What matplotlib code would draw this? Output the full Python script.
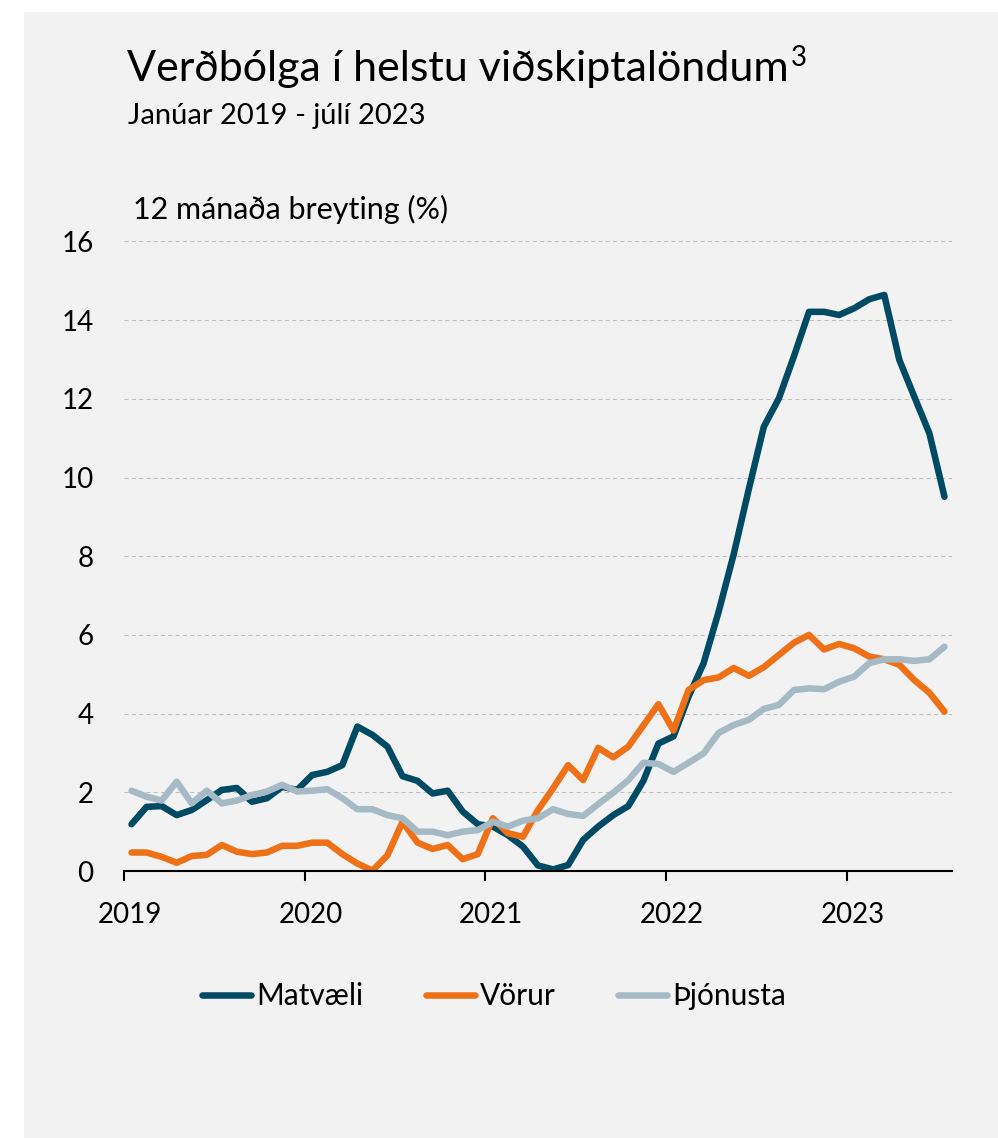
import matplotlib

matplotlib.use("Agg")

import matplotlib.pyplot as plt
import matplotlib.transforms as mtransforms
from matplotlib.patches import Rectangle

# 12 month change (%), January 2019 - July 2023
MONTHS = list(range(55))
MATVAELI = [
    1.19, 1.63, 1.65, 1.42, 1.55, 1.80, 2.06, 2.11, 1.76, 1.85, 2.14, 2.06,
    2.44, 2.52, 2.69, 3.67, 3.46, 3.16, 2.41, 2.29, 1.97, 2.04, 1.51, 1.19,
    1.13, 0.91, 0.62, 0.14, 0.04, 0.15, 0.79, 1.13, 1.42, 1.65, 2.29, 3.24,
    3.42, 4.43, 5.28, 6.59, 8.05, 9.70, 11.29, 12.01, 13.08, 14.21, 14.21, 14.13,
    14.30, 14.53, 14.64, 12.99, 12.05, 11.12, 9.51,
]
VORUR = [
    0.47, 0.47, 0.36, 0.21, 0.38, 0.41, 0.66, 0.49, 0.43, 0.47, 0.64, 0.64,
    0.72, 0.72, 0.43, 0.19, 0.01, 0.40, 1.25, 0.72, 0.56, 0.66, 0.30, 0.43,
    1.34, 0.96, 0.87, 1.55, 2.10, 2.69, 2.31, 3.13, 2.89, 3.16, 3.70, 4.24,
    3.57, 4.60, 4.85, 4.92, 5.16, 4.96, 5.18, 5.49, 5.80, 6.00, 5.63, 5.77,
    5.66, 5.45, 5.38, 5.24, 4.85, 4.53, 4.05,
]
THJONUSTA = [
    2.04, 1.89, 1.79, 2.27, 1.72, 2.04, 1.72, 1.79, 1.93, 2.02, 2.19, 2.02,
    2.04, 2.08, 1.85, 1.57, 1.57, 1.42, 1.34, 1.00, 1.00, 0.91, 1.00, 1.04,
    1.25, 1.13, 1.28, 1.34, 1.57, 1.45, 1.40, 1.70, 1.99, 2.31, 2.75, 2.72,
    2.52, 2.75, 2.99, 3.51, 3.71, 3.84, 4.12, 4.22, 4.60, 4.64, 4.62, 4.81,
    4.94, 5.28, 5.38, 5.38, 5.34, 5.38, 5.70,
]
YEAR_LABELS = ["2019", "2020", "2021", "2022", "2023"]
YEAR_START = [0, 12, 24, 36, 48]

SERIES = [
    ("Matvæli", MATVAELI, "#004B63"),
    ("Vörur", VORUR, "#EE7118"),
    ("Þjónusta", THJONUSTA, "#A6BAC6"),
]

W, H = 998, 1138
BG = "#F2F2F2"


def fx(px: float) -> float:
    return px / W


def fy(py: float) -> float:
    return 1 - py / H


def main() -> None:
    plt.rcParams["font.family"] = ["Lato", "DejaVu Sans"]

    fig = plt.figure(figsize=(W / 100, H / 100), dpi=100, facecolor="white")
    fig.patches.append(
        Rectangle((fx(24), 0), 1 - fx(24), fy(12), transform=fig.transFigure,
                  facecolor=BG, edgecolor="none", zorder=-10)
    )

    ax = fig.add_axes([fx(124), fy(871), fx(952) - fx(124), fy(241.4) - fy(871)])
    ax.set_facecolor("none")

    for label, values, color in SERIES:
        x = [m + 0.5 for m in MONTHS]
        ax.plot(x, values, color=color, linewidth=4.7, label=label,
                solid_joinstyle="round", solid_capstyle="round", zorder=3)

    ax.set_xlim(0, 55)
    ax.set_ylim(0, 16)
    ax.set_yticks(range(0, 17, 2))
    ax.set_xticks(YEAR_START)
    ax.set_xticklabels(YEAR_LABELS)

    for v in range(2, 17, 2):
        ax.axhline(v, color="#BFBFBF", linewidth=0.75, linestyle=(0, (4, 3)), zorder=1)

    for side in ["left", "right", "top"]:
        ax.spines[side].set_visible(False)
    ax.spines["bottom"].set_linewidth(1.5)
    ax.spines["bottom"].set_color("black")
    ax.spines["bottom"].set_zorder(4)

    ax.tick_params(axis="x", length=7.5, width=1.5, direction="out", pad=15,
                   labelsize=20, colors="black")
    ax.tick_params(axis="y", length=0, pad=22, labelsize=20)

    # year labels sit a little right of their tick marks
    shift = mtransforms.ScaledTranslation(6 / 100, 0, fig.dpi_scale_trans)
    for lbl in ax.get_xticklabels():
        lbl.set_transform(lbl.get_transform() + shift)

    title = fig.text(fx(127), fy(81), "Verðbólga í helstu viðskiptalöndum",
                     fontsize=31, va="baseline", ha="left", color="black")
    fig.canvas.draw()
    bb = title.get_window_extent()
    fig.text(bb.x1 / W + fx(2), fy(66), "3", fontsize=20, va="baseline",
             ha="left", color="black")
    fig.text(fx(128), fy(124), "Janúar 2019 - júlí 2023",
             fontsize=21, va="baseline", ha="left", color="black")
    fig.text(fx(133), fy(219), "12 mánaða breyting (%)",
             fontsize=22, va="baseline", ha="left", color="black")

    handles, labels = ax.get_legend_handles_labels()
    fig.legend(handles, labels, loc="center", bbox_to_anchor=(fx(494), fy(996)),
               ncol=3, frameon=False, fontsize=21.5, handlelength=1.65,
               handletextpad=0.15, columnspacing=2.1)

    fig.savefig("out.png", dpi=100, facecolor="white")
    plt.close(fig)


if __name__ == "__main__":
    main()
